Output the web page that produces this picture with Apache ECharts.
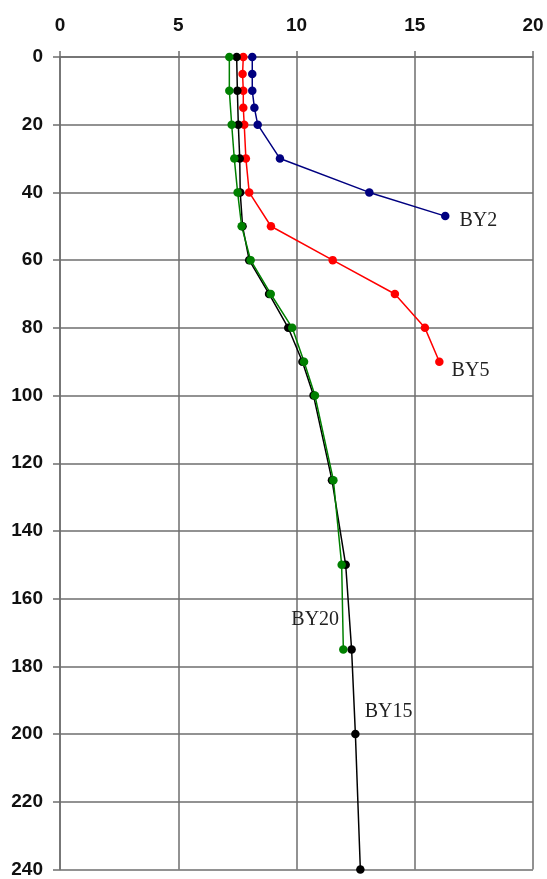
<!DOCTYPE html>
<html>
<head>
<meta charset="utf-8">
<script src="https://cdn.jsdelivr.net/npm/echarts@6/dist/echarts.min.js"></script>
<style>
  html, body { margin: 0; padding: 0; background: #fff; }
  #chart { width: 547px; height: 879px; }
</style>
</head>
<body>
<div id="chart"></div>
<script>
// Depth profiles (depth on the vertical axis, value on the horizontal axis)
const by2Depth  = [0, 5, 10, 15, 20, 30, 40, 47];
const by2Value  = [8.13, 8.13, 8.13, 8.22, 8.36, 9.30, 13.08, 16.29];

const by5Depth  = [0, 5, 10, 15, 20, 30, 40, 50, 60, 70, 80, 90];
const by5Value  = [7.75, 7.72, 7.75, 7.75, 7.79, 7.86, 8.00, 8.92, 11.53, 14.16, 15.43, 16.04];

const by15Depth = [0, 10, 20, 30, 40, 50, 60, 70, 80, 90, 100, 125, 150, 175, 200, 240];
const by15Value = [7.47, 7.50, 7.54, 7.60, 7.62, 7.72, 8.00, 8.84, 9.65, 10.25, 10.72, 11.50, 12.08, 12.33, 12.49, 12.70];

const by20Depth = [0, 10, 20, 30, 40, 50, 60, 70, 80, 90, 100, 125, 150, 175];
const by20Value = [7.16, 7.16, 7.26, 7.37, 7.51, 7.68, 8.06, 8.91, 9.82, 10.32, 10.78, 11.56, 11.91, 11.98];

const xTicks = { min: 0, max: 20, interval: 5 };
const yTicks = { min: 0, max: 240, interval: 20 };

const nameFont = {
  fontFamily: 'Liberation Serif, Times New Roman, serif',
  fontSize: 20,
  color: '#222'
};

// Build [value, depth] pairs; the series name is written beside one chosen point
function pairs(values, depths, labelIndex, labelOpt) {
  return values.map((v, i) => {
    const item = { value: [v, depths[i]] };
    if (i === labelIndex) {
      item.label = Object.assign({ show: true, formatter: '{a}' }, nameFont, labelOpt);
    }
    return item;
  });
}

function profile(name, color, values, depths, labelIndex, labelOpt) {
  return {
    name: name,
    type: 'line',
    data: pairs(values, depths, labelIndex, labelOpt),
    symbol: 'circle',
    symbolSize: 8.5,
    lineStyle: { color: color, width: 1.5 },
    itemStyle: { color: color },
    label: { show: false },
    animation: false
  };
}

const axisColor = '#6e6e6e';
const tickFont = {
  fontFamily: 'Liberation Sans, Arial, sans-serif',
  fontWeight: 'bold',
  fontSize: 19,
  color: '#111'
};

const chart = echarts.init(document.getElementById('chart'));
chart.setOption({
  backgroundColor: '#fff',
  grid: { left: 60, right: 14, top: 57, bottom: 6 },
  xAxis: {
    type: 'value',
    position: 'top',
    min: xTicks.min, max: xTicks.max, interval: xTicks.interval,
    axisLine: { show: true, lineStyle: { color: axisColor, width: 1.5 } },
    axisTick: { show: true, inside: false, length: 6, lineStyle: { color: axisColor, width: 1.5 } },
    axisLabel: Object.assign({ margin: 22 }, tickFont),
    splitLine: { show: true, lineStyle: { color: axisColor, width: 1.5 } }
  },
  yAxis: {
    type: 'value',
    inverse: true,
    min: yTicks.min, max: yTicks.max, interval: yTicks.interval,
    axisLine: { show: true, lineStyle: { color: axisColor, width: 1.5 } },
    axisTick: { show: true, inside: false, length: 7, lineStyle: { color: axisColor, width: 1.5 } },
    axisLabel: Object.assign({ margin: 17 }, tickFont),
    splitLine: { show: true, lineStyle: { color: axisColor, width: 1.5 } }
  },
  series: [
    profile('BY2', '#000080', by2Value, by2Depth, by2Depth.length - 1,
      { position: 'right', distance: 10, offset: [0, 5] }),
    profile('BY5', '#ff0000', by5Value, by5Depth, by5Depth.length - 1,
      { position: 'right', distance: 8, offset: [0, 9] }),
    profile('BY15', '#000000', by15Value, by15Depth, 14,
      { position: 'right', distance: 5, offset: [0, -22] }),
    profile('BY20', '#008000', by20Value, by20Depth, by20Depth.length - 1,
      { position: 'left', distance: 0, offset: [0, -30] })
  ]
});
</script>
</body>
</html>
